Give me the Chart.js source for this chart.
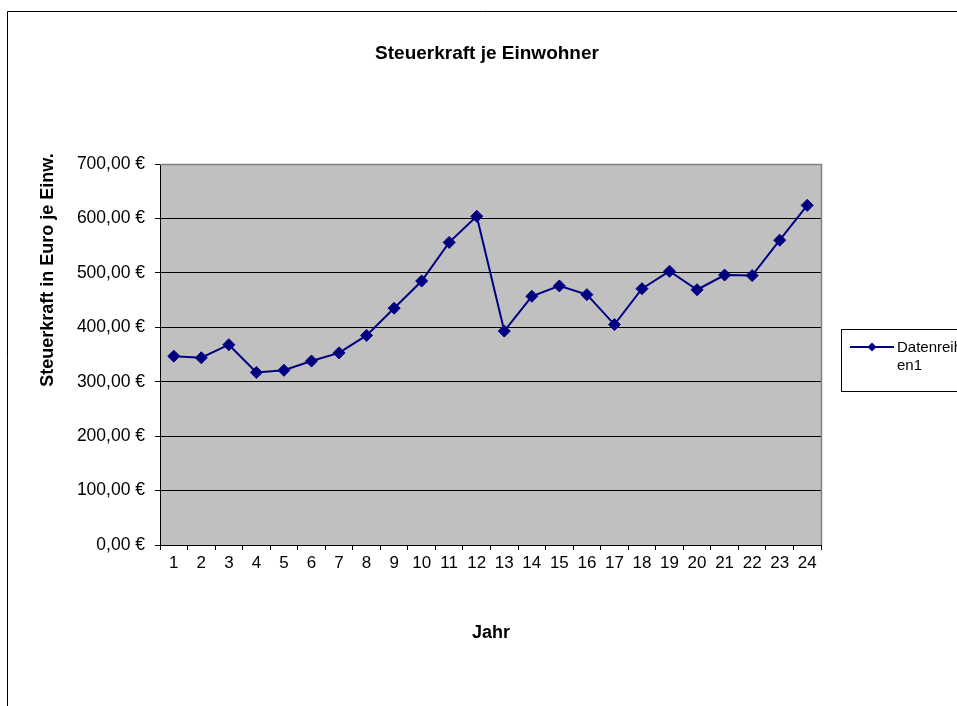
<!DOCTYPE html>
<html>
<head>
<meta charset="utf-8">
<title>Steuerkraft je Einwohner</title>
<script src="https://cdn.jsdelivr.net/npm/chart.js@4"></script>
<style>
  body { margin: 0; background: #fff; }
  canvas { display: block; }
</style>
</head>
<body>
<canvas id="steuerChart" width="957" height="706"></canvas>
<script>
// Werte
const jahre = ['1','2','3','4','5','6','7','8','9','10','11','12',
               '13','14','15','16','17','18','19','20','21','22','23','24'];
const steuerkraft = [347, 344, 368, 317, 321, 338, 353, 385, 435, 485, 556, 604,
                     393, 457, 476, 460, 405, 471, 503, 469, 496, 495, 560, 624];
const yTicks = [0, 100, 200, 300, 400, 500, 600, 700];

const titel = 'Steuerkraft je Einwohner';
const yTitel = 'Steuerkraft in Euro je Einw.';
const xTitel = 'Jahr';
const reihenName = 'Datenreihen1';

const FONT = "'Liberation Sans', Arial, sans-serif";
const NAVY = '#000080';

// Hintergrund, Rahmen, Titel und Legende im Excel-Stil
const excelLook = {
    id: 'excelLook',
    beforeDraw(chart) {
        const { ctx, chartArea: a } = chart;
        ctx.save();
        ctx.fillStyle = '#ffffff';
        ctx.fillRect(0, 0, chart.width, chart.height);
        // äußerer Rahmen
        ctx.strokeStyle = '#000';
        ctx.lineWidth = 1;
        ctx.beginPath();
        ctx.moveTo(7.5, chart.height);
        ctx.lineTo(7.5, 11.5);
        ctx.lineTo(chart.width, 11.5);
        ctx.stroke();
        // Zeichenfläche
        ctx.fillStyle = '#c0c0c0';
        ctx.fillRect(a.left, a.top, a.right - a.left, a.bottom - a.top);
        ctx.restore();
    },
    beforeDatasetsDraw(chart) {
        const { ctx, chartArea: a } = chart;
        ctx.save();
        ctx.strokeStyle = '#808080';
        ctx.lineWidth = 1.5;
        ctx.beginPath();
        ctx.moveTo(a.left, a.top + 0.5);
        ctx.lineTo(a.right + 0.5, a.top + 0.5);
        ctx.lineTo(a.right + 0.5, a.bottom);
        ctx.stroke();
        ctx.restore();
    },
    afterDraw(chart) {
        const { ctx } = chart;
        ctx.save();
        ctx.fillStyle = '#000';
        ctx.textAlign = 'center';
        ctx.textBaseline = 'middle';
        ctx.font = 'bold 19px ' + FONT;
        ctx.fillText(titel, 487, 54);
        ctx.font = 'bold 18px ' + FONT;
        ctx.fillText(xTitel, 491, 633);
        ctx.translate(48, 270);
        ctx.rotate(-Math.PI / 2);
        ctx.fillText(yTitel, 0, 0);
        ctx.restore();

        // Legende
        ctx.save();
        ctx.strokeStyle = '#000';
        ctx.lineWidth = 1;
        ctx.fillStyle = '#fff';
        ctx.fillRect(841.5, 329.5, 130, 62);
        ctx.strokeRect(841.5, 329.5, 130, 62);
        ctx.strokeStyle = NAVY;
        ctx.lineWidth = 2;
        ctx.beginPath();
        ctx.moveTo(850, 347);
        ctx.lineTo(894, 347);
        ctx.stroke();
        ctx.fillStyle = NAVY;
        ctx.beginPath();
        ctx.moveTo(872, 342.5);
        ctx.lineTo(876.5, 347);
        ctx.lineTo(872, 351.5);
        ctx.lineTo(867.5, 347);
        ctx.closePath();
        ctx.fill();
        ctx.fillStyle = '#000';
        ctx.font = '15px ' + FONT;
        ctx.textBaseline = 'middle';
        ctx.fillText(reihenName.slice(0, 9), 897, 348);
        ctx.fillText(reihenName.slice(9), 897, 366);
        ctx.restore();
    }
};

const ctx = document.getElementById('steuerChart').getContext('2d');
const steuerChart = new Chart(ctx, {
    type: 'line',
    data: {
        labels: jahre,
        datasets: [{
            label: reihenName,
            data: steuerkraft,
            borderColor: NAVY,
            backgroundColor: NAVY,
            borderWidth: 2,
            pointStyle: 'rectRot',
            pointRadius: 6,
            pointHoverRadius: 6,
            pointBorderWidth: 1,
            tension: 0
        }]
    },
    options: {
        responsive: false,
        animation: false,
        layout: {
            padding: { left: 0, top: 164, right: 136, bottom: 0 }
        },
        plugins: {
            legend: { display: false },
            title: { display: false },
            tooltip: { enabled: false }
        },
        scales: {
            x: {
                offset: true,
                grid: {
                    offset: true,
                    drawOnChartArea: false,
                    drawTicks: true,
                    tickLength: 5,
                    color: '#000'
                },
                border: { display: true, color: '#000', width: 1 },
                ticks: {
                    color: '#000',
                    font: { family: FONT, size: 17 },
                    padding: 3,
                    maxRotation: 0,
                    autoSkip: false
                },
                afterFit(scale) { scale.height = 161; }
            },
            y: {
                min: 0,
                max: 700,
                afterBuildTicks(scale) {
                    scale.ticks = yTicks.map(v => ({ value: v }));
                },
                grid: {
                    color: '#000',
                    lineWidth: 1,
                    drawTicks: true,
                    tickLength: 5
                },
                border: { display: true, color: '#000', width: 1 },
                ticks: {
                    color: '#000',
                    font: { family: FONT, size: 17.5 },
                    padding: 10,
                    callback: v => v.toFixed(2).replace('.', ',') + ' €'
                },
                afterFit(scale) { scale.width = 160; }
            }
        }
    },
    plugins: [excelLook]
});
</script>
</body>
</html>
